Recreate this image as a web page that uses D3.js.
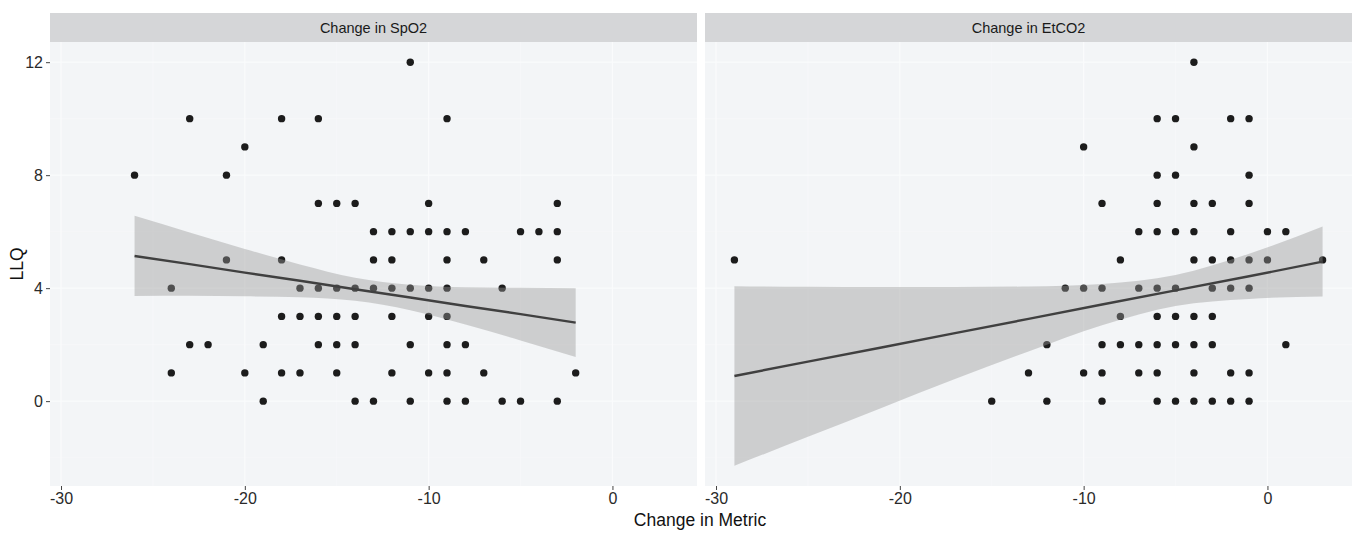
<!DOCTYPE html>
<html>
<head>
<meta charset="utf-8">
<script src="https://cdn.jsdelivr.net/npm/d3@7"></script>
<style>
  html, body { margin: 0; padding: 0; background: #ffffff; }
  svg { display: block; font-family: "Liberation Sans", Arial, sans-serif; }
</style>
</head>
<body>
<svg id="chart" width="1353" height="533"></svg>
<script>
// ---------------- data ----------------
const facetLabels = ["Change in SpO2", "Change in EtCO2"];

// Change in SpO2 panel (visible points)
const spo2X = [
  -11,
  -23, -18, -16, -9,
  -20,
  -26, -21,
  -16, -15, -14, -10, -3,
  -13, -12, -11, -10, -9, -8, -5, -4, -3,
  -21, -18, -13, -12, -9, -7, -3,
  -24, -17, -16, -15, -14, -13, -12, -11, -10, -9, -6,
  -18, -17, -16, -15, -14, -12, -10, -9,
  -23, -22, -19, -16, -15, -14, -11, -9, -8,
  -24, -20, -18, -17, -15, -12, -10, -9, -7, -2,
  -19, -14, -13, -11, -9, -8, -6, -5, -3
];
const spo2Y = [
  12,
  10, 10, 10, 10,
  9,
  8, 8,
  7, 7, 7, 7, 7,
  6, 6, 6, 6, 6, 6, 6, 6, 6,
  5, 5, 5, 5, 5, 5, 5,
  4, 4, 4, 4, 4, 4, 4, 4, 4, 4, 4,
  3, 3, 3, 3, 3, 3, 3, 3,
  2, 2, 2, 2, 2, 2, 2, 2, 2,
  1, 1, 1, 1, 1, 1, 1, 1, 1, 1,
  0, 0, 0, 0, 0, 0, 0, 0, 0
];
// linear smoother with 95% band
const spo2SmoothX = [-26, -23, -20, -17, -14, -11, -8, -5, -2];
const spo2Fit     = [5.14, 4.85, 4.55, 4.26, 3.96, 3.67, 3.37, 3.08, 2.78];
const spo2Lo      = [3.72, 3.73, 3.71, 3.68, 3.55, 3.22, 2.71, 2.15, 1.56];
const spo2Hi      = [6.56, 5.97, 5.39, 4.84, 4.37, 4.12, 4.03, 4.01, 4.00];

// Change in EtCO2 panel (visible points)
const etco2X = [
  -4,
  -6, -5, -2, -1,
  -10, -4,
  -6, -5, -1,
  -9, -6, -4, -3, -1,
  -7, -6, -5, -4, -2, 0, 1,
  -29, -8, -4, -3, -2, -1, 0, 3,
  -11, -10, -9, -7, -6, -5, -3, -2, -1,
  -8, -6, -5, -4, -3,
  -12, -9, -8, -7, -6, -5, -4, -3, 1,
  -13, -10, -9, -7, -6, -4, -2, -1,
  -15, -12, -9, -6, -5, -4, -3, -2, -1
];
const etco2Y = [
  12,
  10, 10, 10, 10,
  9, 9,
  8, 8, 8,
  7, 7, 7, 7, 7,
  6, 6, 6, 6, 6, 6, 6,
  5, 5, 5, 5, 5, 5, 5, 5,
  4, 4, 4, 4, 4, 4, 4, 4, 4,
  3, 3, 3, 3, 3,
  2, 2, 2, 2, 2, 2, 2, 2, 2,
  1, 1, 1, 1, 1, 1, 1, 1,
  0, 0, 0, 0, 0, 0, 0, 0, 0
];
const etco2SmoothX = [-29, -25, -21, -17, -13, -9, -5, -1, 3];
const etco2Fit     = [0.89, 1.40, 1.90, 2.41, 2.91, 3.42, 3.92, 4.42, 4.94];
const etco2Lo      = [-2.29, -1.26, -0.24, 0.78, 1.76, 2.69, 3.37, 3.62, 3.70];
const etco2Hi      = [4.07, 4.05, 4.04, 4.04, 4.06, 4.15, 4.47, 5.22, 6.18];

const xTickValues = [-30, -20, -10, 0];
const yTickValues = [0, 4, 8, 12];
const xTitle = "Change in Metric";
const yTitle = "LLQ";

// ---------------- assemble ----------------
const panels = [
  { label: facetLabels[0], xs: spo2X, ys: spo2Y, sx: spo2SmoothX, fit: spo2Fit, lo: spo2Lo, hi: spo2Hi },
  { label: facetLabels[1], xs: etco2X, ys: etco2Y, sx: etco2SmoothX, fit: etco2Fit, lo: etco2Lo, hi: etco2Hi }
];
panels.forEach(p => {
  p.points = p.xs.map((x, i) => ({ x, y: p.ys[i] }));
  p.smooth = p.sx.map((x, i) => ({ x, fit: p.fit[i], lo: p.lo[i], hi: p.hi[i] }));
});

// ---------------- scales (shared, ggplot-style 5% expansion) ----------------
const allX = panels.flatMap(p => p.xs.concat(p.sx));
const allY = panels.flatMap(p => p.ys.concat(p.lo, p.hi));
function expand(ext) { const r = ext[1] - ext[0]; return [ext[0] - 0.05 * r, ext[1] + 0.05 * r]; }
const xDom = expand(d3.extent(allX));
const yDom = expand(d3.extent(allY));

const panelTop = 42, panelBottom = 486;
const stripTop = 13;
const panelLefts = [50, 705];
const panelW = 647;

const y = d3.scaleLinear().domain(yDom).range([panelBottom, panelTop]);
const fmt = d => String(d);

const svg = d3.select("#chart");

panels.forEach((p, pi) => {
  const left = panelLefts[pi];
  const x = d3.scaleLinear().domain(xDom).range([left, left + panelW]);
  const g = svg.append("g");

  // panel background
  g.append("rect").attr("x", left).attr("y", panelTop).attr("width", panelW)
    .attr("height", panelBottom - panelTop).attr("fill", "#f3f5f7");

  // faint grid lines
  const xMinor = d3.range(-35, 10, 5).filter(v => v % 10 !== 0 && v > xDom[0] && v < xDom[1]);
  const yMinor = d3.range(-2, 14, 2).filter(v => v % 4 !== 0 && v > yDom[0] && v < yDom[1]);
  g.selectAll(".vminor").data(xMinor).join("line")
    .attr("x1", d => x(d)).attr("x2", d => x(d)).attr("y1", panelTop).attr("y2", panelBottom)
    .attr("stroke", "#f8f9fa").attr("stroke-width", 0.6);
  g.selectAll(".hminor").data(yMinor).join("line")
    .attr("x1", left).attr("x2", left + panelW).attr("y1", d => y(d)).attr("y2", d => y(d))
    .attr("stroke", "#f8f9fa").attr("stroke-width", 0.6);
  g.selectAll(".vmajor").data(xTickValues).join("line")
    .attr("x1", d => x(d)).attr("x2", d => x(d)).attr("y1", panelTop).attr("y2", panelBottom)
    .attr("stroke", "#fafbfc").attr("stroke-width", 1.2);
  g.selectAll(".hmajor").data(yTickValues).join("line")
    .attr("x1", left).attr("x2", left + panelW).attr("y1", d => y(d)).attr("y2", d => y(d))
    .attr("stroke", "#fafbfc").attr("stroke-width", 1.2);

  // strip
  g.append("rect").attr("x", left).attr("y", stripTop).attr("width", panelW)
    .attr("height", panelTop - stripTop).attr("fill", "#d5d6d8");
  g.append("text").attr("x", left + panelW / 2).attr("y", (stripTop + panelTop) / 2)
    .attr("dy", "0.35em").attr("text-anchor", "middle").attr("font-size", 14.5)
    .attr("fill", "#1a1a1a").text(p.label);

  // points
  g.selectAll(".pt").data(p.points).join("circle")
    .attr("cx", d => x(d.x)).attr("cy", d => y(d.y)).attr("r", 3.7)
    .attr("fill", "#1c1c1c");

  // confidence ribbon
  const area = d3.area().curve(d3.curveMonotoneX)
    .x(d => x(d.x)).y0(d => y(d.lo)).y1(d => y(d.hi));
  g.append("path").datum(p.smooth).attr("d", area)
    .attr("fill", "#999999").attr("fill-opacity", 0.42);

  // fitted line
  const line = d3.line().x(d => x(d.x)).y(d => y(d.fit));
  g.append("path").datum(p.smooth).attr("d", line)
    .attr("fill", "none").attr("stroke", "#404040").attr("stroke-width", 2.4);

  // x axis
  const xAxis = d3.axisBottom(x).tickValues(xTickValues).tickSize(4).tickPadding(3).tickFormat(fmt);
  const ax = g.append("g").attr("transform", `translate(0,${panelBottom})`).call(xAxis);
  ax.select(".domain").remove();
  ax.selectAll(".tick line").attr("stroke", "#444").attr("stroke-width", 1);
  ax.selectAll(".tick text").attr("font-size", 16).attr("fill", "#2a2a2a")
    .attr("font-family", "'Liberation Sans', Arial, sans-serif");

  // y axis (first panel only)
  if (pi === 0) {
    const yAxis = d3.axisLeft(y).tickValues(yTickValues).tickSize(4).tickPadding(3).tickFormat(fmt);
    const ay = g.append("g").attr("transform", `translate(${left},0)`).call(yAxis);
    ay.select(".domain").remove();
    ay.selectAll(".tick line").attr("stroke", "#444").attr("stroke-width", 1);
    ay.selectAll(".tick text").attr("font-size", 16).attr("fill", "#2a2a2a")
      .attr("font-family", "'Liberation Sans', Arial, sans-serif");
  }
});

// axis titles
svg.append("text").attr("x", 700).attr("y", 526).attr("text-anchor", "middle")
  .attr("font-size", 17.5).attr("fill", "#111").text(xTitle);
svg.append("text").attr("transform", `translate(23,${(panelTop + panelBottom) / 2}) rotate(-90)`)
  .attr("text-anchor", "middle").attr("font-size", 17.5).attr("fill", "#111").text(yTitle);
</script>
</body>
</html>
